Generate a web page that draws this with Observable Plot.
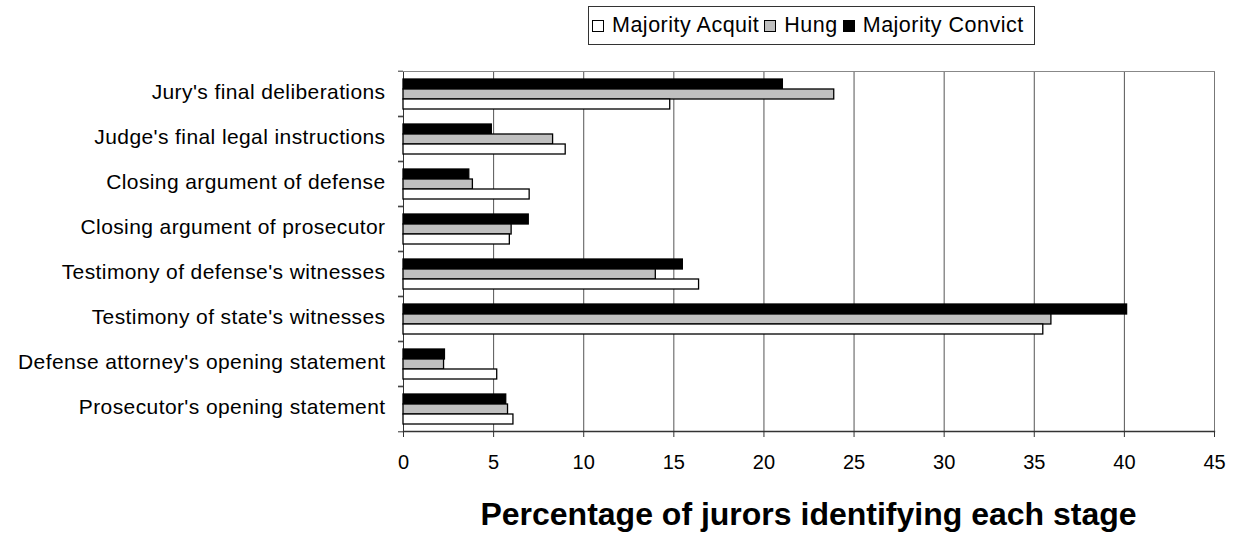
<!DOCTYPE html>
<html>
<head>
<meta charset="utf-8">
<script src="https://cdn.jsdelivr.net/npm/d3@7"></script>
<script src="https://cdn.jsdelivr.net/npm/@observablehq/plot@0.6"></script>
<style>
  html, body { margin: 0; padding: 0; background: #fff; }
  body { width: 1236px; font-family: "Liberation Sans", Arial, sans-serif; color: #000; }
  #legend { position: relative; height: 50px; }
  #legend .box { position: absolute; left: 588px; top: 6px; width: 447px; height: 39px; border: 1px solid #333; box-sizing: border-box; display: flex; align-items: center; padding-left: 3px; font-size: 21.5px; letter-spacing: 0.5px; }
  #legend .item { display: flex; align-items: center; margin-right: 5px; }
  #legend .sw { width: 10px; height: 10px; border: 1px solid #000; margin-right: 8px; }
  #caption { height: 41px; line-height: 40px; font-size: 32px; font-weight: bold; text-align: center; padding-left: 403px; width: 811px; }
  svg g[aria-label="fy-axis tick label"] text { letter-spacing: 0.4px; }
</style>
</head>
<body>
<div id="legend"><div class="box"></div></div>
<div id="chart"></div>
<div id="caption"></div>
<script>
// Data (categories listed top to bottom)
const stages = [
  "Jury's final deliberations",
  "Judge's final legal instructions",
  "Closing argument of defense",
  "Closing argument of prosecutor",
  "Testimony of defense's witnesses",
  "Testimony of state's witnesses",
  "Defense attorney's opening statement",
  "Prosecutor's opening statement"
];
const seriesNames = ["Majority Convict", "Hung", "Majority Acquit"];
const legendOrder = ["Majority Acquit", "Hung", "Majority Convict"];
const seriesColors = ["#000000", "#c0c0c0", "#ffffff"];
const convictValues = [21.05, 4.9, 3.65, 6.95, 15.5, 40.15, 2.3, 5.7];
const hungValues    = [23.9, 8.3, 3.85, 6.0, 14.0, 35.95, 2.25, 5.8];
const acquitValues  = [14.8, 9.0, 7.0, 5.9, 16.4, 35.5, 5.2, 6.1];
const xTicks = [0, 5, 10, 15, 20, 25, 30, 35, 40, 45];
const xTitle = "Percentage of jurors identifying each stage";

const valuesBySeries = {
  "Majority Convict": convictValues,
  "Hung": hungValues,
  "Majority Acquit": acquitValues
};
const table = stages.flatMap((stage, i) =>
  seriesNames.map(series => ({stage, series, value: valuesBySeries[series][i]}))
);

const font = '"Liberation Sans", Arial, sans-serif';

const chart = Plot.plot({
  width: 1236,
  height: 444,
  marginLeft: 403,
  marginRight: 22,
  marginTop: 18,
  marginBottom: 61,
  style: {fontFamily: font, background: "#fff", color: "#000", overflow: "visible"},
  x: {domain: [0, 45], nice: false},
  y: {domain: seriesNames, paddingInner: 0, paddingOuter: 0.64, axis: null},
  fy: {domain: stages, padding: 0},
  color: {domain: seriesNames, range: seriesColors},
  marks: [
    Plot.ruleX(xTicks.slice(1, -1), {stroke: "#555", strokeWidth: 1, strokeOpacity: 1}),
    Plot.ruleX([0], {stroke: "#333", strokeWidth: 1}),
    Plot.ruleX([45], {stroke: "#777", strokeWidth: 1}),
    Plot.frame({anchor: "top", facetAnchor: "top", stroke: "#888"}),
    Plot.barX(table, {x: "value", y: "series", fy: "stage", fill: "series", stroke: "#000", strokeWidth: 1.3}),
    Plot.frame({anchor: "bottom", facetAnchor: "bottom", stroke: "#333", strokeWidth: 1.3}),
    Plot.axisX({ticks: xTicks, tickSize: 6, tickPadding: 17, fontSize: 20, label: null, stroke: "#333"}),
    Plot.axisFy({anchor: "left", tickSize: 0, tickPadding: 18, fontSize: 21, dy: -2, label: null}),
    Plot.axisFy({anchor: "left", tickSize: 5, tickFormat: () => "", label: null, dy: -22.8, stroke: "#333"}),
    Plot.axisFy({anchor: "left", tickSize: 5, tickFormat: () => "", label: null, dy: 22.8, stroke: "#333"})
  ]
});
document.getElementById("chart").appendChild(chart);

// Legend (HTML, above the SVG)
const box = document.querySelector("#legend .box");
legendOrder.forEach(name => {
  const item = document.createElement("div");
  item.className = "item";
  const sw = document.createElement("div");
  sw.className = "sw";
  sw.style.background = seriesColors[seriesNames.indexOf(name)];
  const label = document.createElement("span");
  label.textContent = name;
  item.appendChild(sw);
  item.appendChild(label);
  box.appendChild(item);
});

document.getElementById("caption").textContent = xTitle;
</script>
</body>
</html>
